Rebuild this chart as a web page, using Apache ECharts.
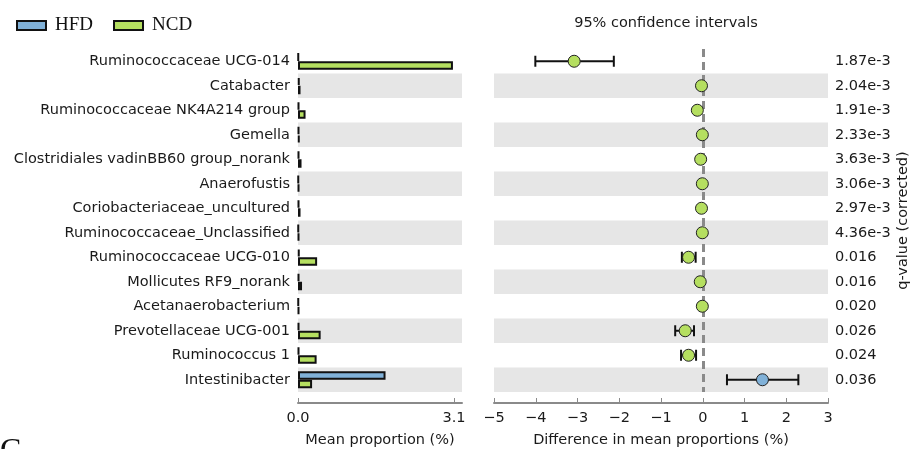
<!DOCTYPE html>
<html>
<head>
<meta charset="utf-8">
<script src="https://cdn.jsdelivr.net/npm/echarts@6/dist/echarts.min.js"></script>
<style>html,body{margin:0;padding:0;background:#fff;}#c{width:910px;height:449px;}</style>
</head>
<body>
<div id="c"></div>
<script>
const categories = [
  'Ruminococcaceae UCG-014','Catabacter','Ruminococcaceae NK4A214 group','Gemella',
  'Clostridiales vadinBB60 group_norank','Anaerofustis','Coriobacteriaceae_uncultured',
  'Ruminococcaceae_Unclassified','Ruminococcaceae UCG-010','Mollicutes RF9_norank',
  'Acetanaerobacterium','Prevotellaceae UCG-001','Ruminococcus 1','Intestinibacter'
];
const hfdMean = [0.01,0.03,0.02,0.02,0.02,0.01,0.02,0.01,0.03,0.02,0.01,0.02,0.02,1.74];
const ncdMean = [3.08,0.05,0.15,0.03,0.07,0.02,0.05,0.02,0.38,0.08,0.02,0.45,0.37,0.28];
const diffMean = [-3.08,-0.03,-0.13,-0.01,-0.05,-0.01,-0.03,-0.01,-0.34,-0.06,-0.01,-0.42,-0.34,1.43];
const ciLow  = [-4.01,-0.03,-0.13,-0.01,-0.05,-0.01,-0.03,-0.01,-0.50,-0.06,-0.01,-0.66,-0.52,0.58];
const ciHigh = [-2.13,-0.03,-0.13,-0.01,-0.05,-0.01,-0.03,-0.01,-0.17,-0.06,-0.01,-0.21,-0.16,2.29];
const qValues = ['1.87e-3','2.04e-3','1.91e-3','2.33e-3','3.63e-3','3.06e-3','2.97e-3','4.36e-3',
  '0.016','0.016','0.020','0.026','0.024','0.036'];
const leftTicks = [0, 3.1];

const BLUE = '#80b1d8', GREEN = '#b5df60', BAND = '#e6e6e6', AXIS = '#8a8a8a';
const FONT = 'DejaVu Sans', FS = 14.5, TXT = '#1a1a1a';

const chart = echarts.init(document.getElementById('c'), null, {renderer: 'canvas'});
const fmtMinus = v => v < 0 ? '\u2212' + Math.abs(v) : String(v);

chart.setOption({
  animation: false,
  backgroundColor: '#fff',
  title: {
    text: '95% confidence intervals', left: 661, top: 11, textAlign: 'center',
    textStyle: {fontFamily: FONT, fontSize: FS, fontWeight: 'normal', color: TXT}
  },
  legend: {
    left: 11, top: 11, itemWidth: 29, itemHeight: 9, itemGap: 20, icon: 'rect',
    data: ['HFD', 'NCD'],
    textStyle: {fontFamily: 'Liberation Serif', fontSize: 19, color: '#111', padding: [0,0,0,4]}
  },
  graphic: [{
    type: 'text', left: 0, top: 436,
    style: {text: 'C', font: '32px "Liberation Serif"', fill: '#111'}
  }],
  grid: [
    {left: 298, top: 49, width: 164, height: 343, outerBoundsMode: 'none', containLabel: false},
    {left: 494, top: 49, width: 334, height: 343, outerBoundsMode: 'none', containLabel: false}
  ],
  xAxis: [
    {
      gridIndex: 0, type: 'value', min: 0, max: 3.26, offset: 11,
      name: 'Mean proportion (%)', nameLocation: 'middle', nameGap: 30,
      nameTextStyle: {fontFamily: FONT, fontSize: FS, color: TXT},
      axisLine: {show: true, lineStyle: {color: AXIS, width: 2}},
      axisTick: {show: true, inside: true, length: 5, customValues: leftTicks, lineStyle: {color: AXIS, width: 1}},
      axisLabel: {customValues: leftTicks, margin: 8, fontFamily: FONT, fontSize: FS, color: TXT,
        formatter: v => v.toFixed(1)},
      splitLine: {show: false}
    },
    {
      gridIndex: 1, type: 'value', min: -5, max: 3, interval: 1, offset: 11,
      name: 'Difference in mean proportions (%)', nameLocation: 'middle', nameGap: 30,
      nameTextStyle: {fontFamily: FONT, fontSize: FS, color: TXT},
      axisLine: {show: true, lineStyle: {color: AXIS, width: 2}},
      axisTick: {show: true, inside: true, length: 5, lineStyle: {color: AXIS, width: 1}},
      axisLabel: {margin: 8, fontFamily: FONT, fontSize: FS, color: TXT, formatter: fmtMinus},
      splitLine: {show: false}
    }
  ],
  yAxis: [
    {
      gridIndex: 0, type: 'category', data: categories, inverse: true,
      axisLine: {show: false}, axisTick: {show: false},
      axisLabel: {margin: 8, fontFamily: FONT, fontSize: FS, color: TXT},
      splitArea: {show: true, areaStyle: {color: ['#ffffff', BAND]}},
      splitLine: {show: false}
    },
    {
      gridIndex: 1, type: 'category', data: categories, inverse: true,
      axisLine: {show: false}, axisTick: {show: false}, axisLabel: {show: false},
      splitArea: {show: true, areaStyle: {color: ['#ffffff', BAND]}},
      splitLine: {show: false}
    },
    {
      gridIndex: 1, type: 'category', data: qValues, inverse: true, position: 'right',
      name: 'q-value (corrected)', nameLocation: 'middle', nameRotate: 90, nameGap: 68,
      nameTextStyle: {fontFamily: FONT, fontSize: FS, color: TXT},
      axisLine: {show: false}, axisTick: {show: false},
      axisLabel: {margin: 7, fontFamily: FONT, fontSize: FS, color: TXT},
      splitArea: {show: false}, splitLine: {show: false}
    }
  ],
  series: [
    {
      name: 'HFD', type: 'bar', xAxisIndex: 0, yAxisIndex: 0, data: hfdMean,
      barWidth: 8.5, barGap: '0%',
      itemStyle: {color: BLUE, borderColor: '#111', borderWidth: 2}
    },
    {
      name: 'NCD', type: 'bar', xAxisIndex: 0, yAxisIndex: 0, data: ncdMean,
      barWidth: 8.5, barGap: '0%',
      itemStyle: {color: GREEN, borderColor: '#111', borderWidth: 2}
    },
    {
      type: 'line', xAxisIndex: 1, yAxisIndex: 1, data: [], z: 1,
      markLine: {
        silent: true, symbol: 'none', label: {show: false}, z: 1,
        lineStyle: {color: AXIS, width: 3, type: [8, 5]},
        data: [{xAxis: 0}]
      }
    },
    {
      type: 'custom', xAxisIndex: 1, yAxisIndex: 1, z: 3,
      data: categories.map((c, i) => [i, ciLow[i], ciHigh[i]]),
      encode: {x: [1, 2], y: 0},
      renderItem: function (params, api) {
        const idx = api.value(0);
        const lo = api.coord([api.value(1), idx]);
        const hi = api.coord([api.value(2), idx]);
        if (Math.abs(hi[0] - lo[0]) < 1) return null;
        const h = 5.5;
        const st = {stroke: '#111', lineWidth: 2};
        return {
          type: 'group',
          children: [
            {type: 'line', shape: {x1: lo[0], y1: lo[1], x2: hi[0], y2: hi[1]}, style: st},
            {type: 'line', shape: {x1: lo[0], y1: lo[1] - h, x2: lo[0], y2: lo[1] + h}, style: st},
            {type: 'line', shape: {x1: hi[0], y1: hi[1] - h, x2: hi[0], y2: hi[1] + h}, style: st}
          ]
        };
      }
    },
    {
      type: 'scatter', xAxisIndex: 1, yAxisIndex: 1, z: 4,
      symbol: 'circle', symbolSize: 12,
      data: diffMean.map((d, i) => ({value: [d, i], itemStyle: {color: d < 0 ? GREEN : BLUE}})),
      itemStyle: {borderColor: '#222', borderWidth: 1, opacity: 1}
    }
  ]
});
</script>
</body>
</html>
